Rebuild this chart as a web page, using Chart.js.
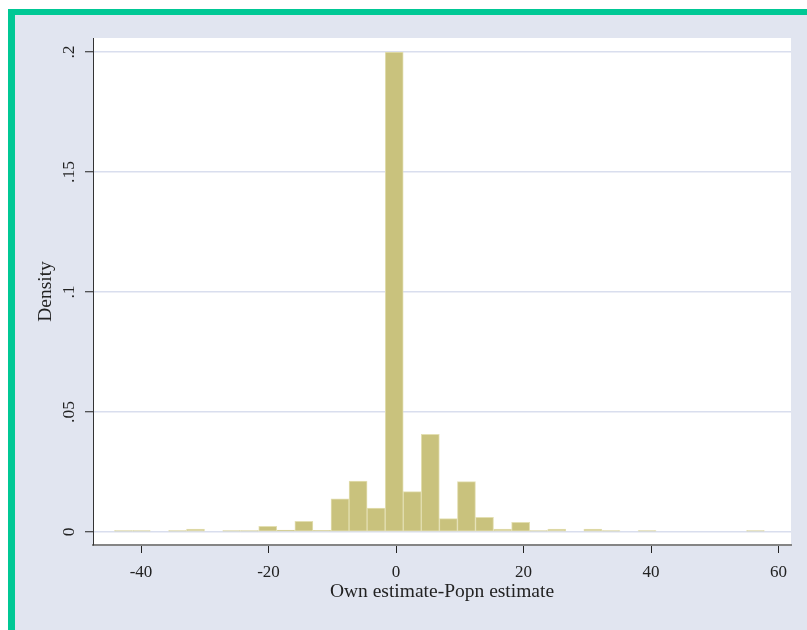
<!DOCTYPE html>
<html>
<head>
<meta charset="utf-8">
<script src="https://cdn.jsdelivr.net/npm/chart.js@4"></script>
<style>
  html, body { margin: 0; padding: 0; background: #ffffff; }
  #frame {
    position: absolute; left: 8px; top: 9px; width: 792px; height: 615px;
    border-left: 7px solid #00C895; border-top: 6px solid #00C895;
    background: #E1E5F0;
  }
  #myChart { position: absolute; left: 0; top: 0; }
</style>
</head>
<body>
<div id="frame"></div>
<canvas id="myChart" width="807" height="630"></canvas>
<script>
// bin midpoints of the histogram (width ~2.83)
const binCenters = [-42.78, -39.95, -37.12, -34.28, -31.45, -28.62, -25.78, -22.95, -20.12, -17.28,
    -14.45, -11.62, -8.78, -5.95, -3.12, -0.28, 2.55, 5.38, 8.22, 11.05,
    13.88, 16.72, 19.55, 22.38, 25.22, 28.05, 30.88, 33.72, 36.55, 39.38,
    42.22, 45.05, 47.88, 50.72, 53.55, 56.38];
const density = [0.0006, 0.0006, 0, 0.0006, 0.0012, 0, 0.0006, 0.0006, 0.0024, 0.0008,
    0.0044, 0.0007, 0.0138, 0.0212, 0.0100, 0.2, 0.0168, 0.0407, 0.0056, 0.0210,
    0.0061, 0.0012, 0.0040, 0.0006, 0.0012, 0, 0.0012, 0.0006, 0, 0.0006,
    0, 0, 0, 0, 0, 0.0006];
const xTicks = [-40, -20, 0, 20, 40, 60];
const yTicks = [0, 0.05, 0.1, 0.15, 0.2];
const yTickLabels = ['0', '.05', '.1', '.15', '.2'];

const FONT = "'Liberation Serif', 'DejaVu Serif', serif";

// white plot region behind the bars
const plotBg = {
    id: 'plotBg',
    beforeDraw(chart) {
        const { ctx, chartArea: a } = chart;
        ctx.save();
        ctx.fillStyle = '#ffffff';
        ctx.fillRect(a.left, a.top, a.right - a.left, a.bottom - a.top);
        ctx.restore();
    }
};

new Chart("myChart", {
    type: 'bar',
    data: {
        datasets: [{
            label: 'Density',
            data: binCenters.map((x, i) => ({ x: x, y: density[i] })),
            backgroundColor: '#C9C27D',
            borderColor: '#E3DFB2',
            borderWidth: 1,
            borderSkipped: false,
            barPercentage: 1,
            categoryPercentage: 1
        }]
    },
    options: {
        responsive: false,
        animation: false,
        layout: { padding: { top: 38, right: 16, bottom: 0, left: 0 } },
        plugins: { legend: { display: false }, tooltip: { enabled: false } },
        scales: {
            x: {
                type: 'linear',
                offset: false,
                min: -47.53,
                max: 61.96,
                afterBuildTicks: s => { s.ticks = xTicks.map(v => ({ value: v })); },
                afterFit: s => { s.height = 85; },
                border: { display: true, color: '#858585', width: 2 },
                grid: { offset: false, drawOnChartArea: false, drawTicks: true, tickLength: 8, tickColor: '#222222', tickWidth: 1 },
                ticks: { color: '#222222', font: { family: FONT, size: 17 }, padding: 9, maxRotation: 0 },
                title: { display: true, text: 'Own estimate-Popn estimate', color: '#222222',
                    font: { family: FONT, size: 19.5 }, padding: { top: 0, bottom: 26 } }
            },
            y: {
                min: -0.0054167,
                max: 0.20583,
                afterBuildTicks: s => { s.ticks = yTicks.map(v => ({ value: v })); },
                afterFit: s => { s.width = 93; },
                border: { display: true, color: '#333333', width: 1 },
                grid: { color: '#D9DEEE', lineWidth: 1.5, drawTicks: true, tickLength: 8, tickColor: '#222222', tickWidth: 1 },
                ticks: {
                    color: '#222222', font: { family: FONT, size: 17.5 }, padding: 5,
                    minRotation: 90, maxRotation: 90, crossAlign: 'center',
                    callback: (v) => yTickLabels[yTicks.indexOf(v)]
                },
                title: { display: true, text: 'Density', color: '#222222',
                    font: { family: FONT, size: 19.5 }, padding: { top: 34, bottom: 0 } }
            }
        }
    },
    plugins: [plotBg]
});
</script>
</body>
</html>
